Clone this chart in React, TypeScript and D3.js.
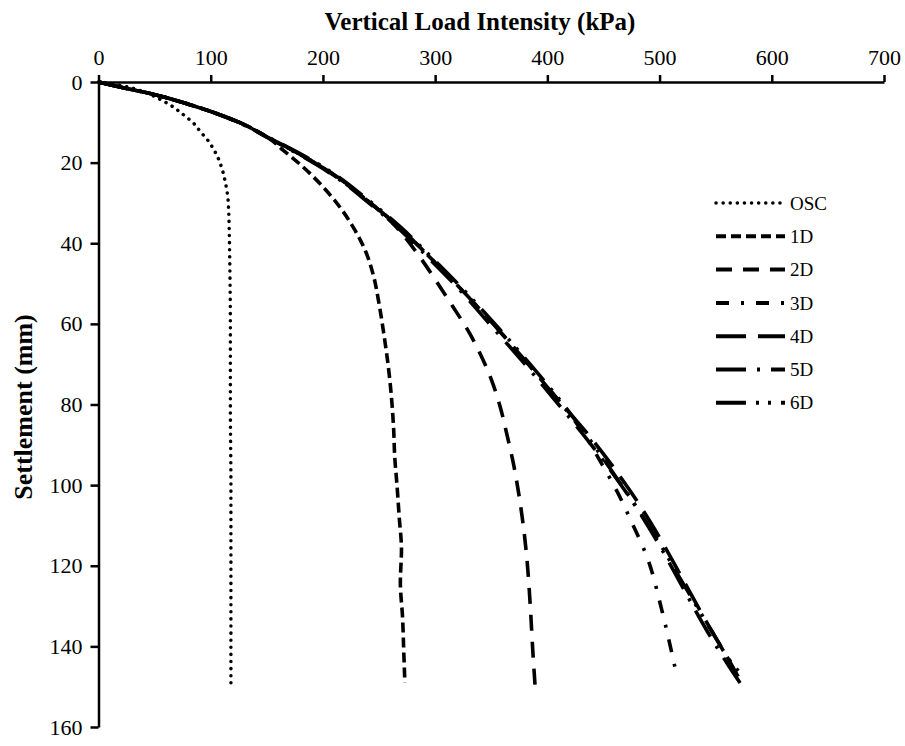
import React, { useEffect, useRef } from "react";
import * as d3 from "d3";

type Pt = [number, number];

const xTicks = [0, 100, 200, 300, 400, 500, 600, 700];
const yTicks = [0, 20, 40, 60, 80, 100, 120, 140, 160];
const seriesNames = ["OSC", "1D", "2D", "3D", "4D", "5D", "6D"];

const osc: Pt[] = [
  [0, 0], [20, 0.9], [40, 2.4], [52, 3.9], [65, 5.9], [76, 8.2], [85, 10.3],
  [91, 12.4], [97, 14.3], [102, 16.4], [106, 18.5], [109, 20.6], [113, 24.8],
  [115, 28], [116, 32], [116.5, 37], [117, 45], [117.5, 60], [117.5, 80],
  [118, 100], [118, 120], [118, 140], [118, 149.5],
];

const d1: Pt[] = [
  [0, 0], [20, 1.3], [45, 2.8], [80, 5.5], [105, 7.8], [126, 10.1], [150, 13.6],
  [165, 17], [182, 21], [200, 26], [215, 31], [228, 36.5], [238, 42],
  [245, 48], [250, 55], [254, 62], [258, 70], [261, 78], [263, 86],
  [264, 93], [266, 100], [268, 108], [270, 116], [269, 124], [271, 133],
  [272, 141], [273, 149],
];

const d2: Pt[] = [
  [0, 0], [20, 1.3], [45, 2.8], [80, 5.5], [105, 7.8], [126, 10.1], [150, 13.6],
  [180, 18], [210, 23.2], [240, 29.5], [262, 35], [284, 42.5], [300, 49],
  [316, 55.8], [330, 62], [342, 68.5], [351, 74.5], [358, 80.6], [364, 87.5],
  [370, 95], [375, 103], [379, 111], [382, 119], [385, 131], [387, 141],
  [389, 149.5],
];

const d3s: Pt[] = [
  [0, 0], [20, 1.3], [45, 2.8], [80, 5.5], [105, 7.8], [126, 10.1], [150, 13.6],
  [180, 18], [210, 23], [240, 29.5], [270, 36.5], [290, 42], [320, 50.5],
  [350, 59.5], [380, 69], [410, 79], [432, 87], [449, 95], [462, 101.5],
  [474, 108.5], [489, 118], [502, 131], [510, 140.5], [515.5, 147.5],
];

const d4: Pt[] = [
  [0, 0], [20, 1.3], [45, 2.8], [80, 5.5], [105, 7.8], [126, 10.1], [150, 13.6],
  [180, 18], [210, 23], [240, 29.5], [270, 36.5], [290, 42], [320, 50.5],
  [350, 59.5], [380, 69], [410, 79], [435, 87], [460, 96], [480, 104],
  [500, 113], [520, 123], [545, 135.5], [560, 142.5], [570, 147.5],
];

const d5: Pt[] = [
  [0, 0], [20, 1.3], [45, 2.8], [80, 5.5], [105, 7.8], [126, 10.2], [150, 13.7],
  [180, 18.2], [210, 23.3], [240, 29.8], [270, 37], [290, 42.5], [320, 51],
  [350, 60.5], [380, 70], [410, 80], [435, 88.5], [458, 97], [478, 105],
  [498, 114], [518, 124], [543, 136.5], [562, 145], [574, 150],
];

const d6: Pt[] = [
  [0, 0], [20, 1.3], [45, 2.8], [80, 5.5], [105, 7.8], [126, 10.1], [150, 13.5],
  [180, 17.8], [210, 22.8], [240, 29.2], [270, 36.2], [290, 41.6], [320, 50],
  [350, 59], [380, 68.5], [410, 78.5], [432, 86.5], [455, 95.5], [476, 104],
  [497, 113], [518, 123], [546, 136], [564, 144], [576, 148],
];

const seriesData: Pt[][] = [osc, d1, d2, d3s, d4, d5, d6];
const dashes = [
  "0.1 7",
  "10 5",
  "16 11",
  "13 12 3 12",
  "30 12",
  "30 11 3 11",
  "30 10 3 9 3 10",
];
const caps = ["round", "butt", "butt", "butt", "butt", "butt", "butt"];

export default function App() {
  const ref = useRef<SVGSVGElement>(null);

  useEffect(() => {
    const svg = d3.select(ref.current);
    svg.selectAll("*").remove();
    const x = d3.scaleLinear().domain([0, 700]).range([98.5, 884]);
    const y = d3.scaleLinear().domain([0, 160]).range([82, 727]);
    const font = "'Liberation Serif', 'Times New Roman', serif";

    const gx = svg.append("g").attr("transform", `translate(0,${y(0)})`);
    gx.call(
      d3.axisTop(x).tickValues(xTicks).tickSize(7).tickPadding(10).tickSizeOuter(0)
    );
    gx.select(".domain").attr("stroke", "#000").attr("stroke-width", 2.5);
    gx.selectAll(".tick line").attr("stroke", "#000").attr("stroke-width", 2.5);
    gx.selectAll(".tick text")
      .attr("font-family", font)
      .attr("font-size", 22)
      .attr("fill", "#000");

    const gy = svg.append("g").attr("transform", `translate(${x(0)},0)`);
    gy.call(
      d3.axisLeft(y).tickValues(yTicks).tickSize(8).tickPadding(8).tickSizeOuter(0)
    );
    gy.select(".domain").attr("stroke", "#000").attr("stroke-width", 2.5);
    gy.selectAll(".tick line").attr("stroke", "#000").attr("stroke-width", 2.5);
    gy.selectAll(".tick text")
      .attr("font-family", font)
      .attr("font-size", 22)
      .attr("fill", "#000");

    svg.append("text")
      .attr("x", 480)
      .attr("y", 30)
      .attr("text-anchor", "middle")
      .attr("font-family", font)
      .attr("font-weight", "bold")
      .attr("font-size", 25)
      .text("Vertical Load Intensity (kPa)");

    svg.append("text")
      .attr("transform", `translate(32,407) rotate(-90)`)
      .attr("text-anchor", "middle")
      .attr("font-family", font)
      .attr("font-weight", "bold")
      .attr("font-size", 26)
      .text("Settlement (mm)");

    const line = d3.line<Pt>()
      .x((d) => x(d[0]))
      .y((d) => y(d[1]))
      .curve(d3.curveMonotoneY);

    seriesData.forEach((data, i) => {
      svg.append("path")
        .datum(data)
        .attr("d", line)
        .attr("fill", "none")
        .attr("stroke", "#000")
        .attr("stroke-width", i === 0 ? 3.5 : 3.6)
        .attr("stroke-linecap", caps[i])
        .attr("stroke-dasharray", dashes[i]);
    });

    const lg = svg.append("g");
    seriesNames.forEach((name, i) => {
      const ly = 203 + i * 33.3;
      lg.append("line")
        .attr("x1", 716)
        .attr("x2", 785)
        .attr("y1", ly)
        .attr("y2", ly)
        .attr("stroke", "#000")
        .attr("stroke-width", i === 0 ? 3.5 : 4)
        .attr("stroke-linecap", caps[i])
        .attr("stroke-dasharray", dashes[i]);
      lg.append("text")
        .attr("x", 790)
        .attr("y", ly)
        .attr("dy", "0.35em")
        .attr("font-family", font)
        .attr("font-size", 19)
        .text(name);
    });
  }, []);

  return (
    <div style={{ position: "absolute", left: 0, top: 0 }}>
      <svg ref={ref} width={905} height={746} style={{ display: "block", background: "#fff" }} />
    </div>
  );
}
